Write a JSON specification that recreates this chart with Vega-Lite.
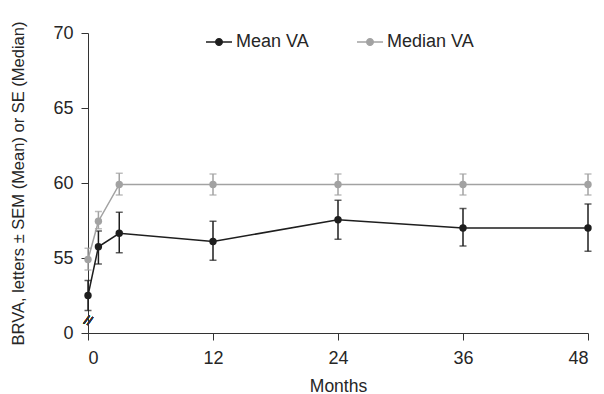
{
  "$schema": "https://vega.github.io/schema/vega-lite/v6.json",
  "width": 500,
  "height": 300,
  "autosize": {"type": "none"},
  "padding": {"left": 88, "top": 33, "right": 16, "bottom": 61},
  "config": {
    "font": "Liberation Sans",
    "view": {"stroke": null},
    "axis": {"labelColor": "#262626", "titleColor": "#262626", "domainColor": "#333333", "tickColor": "#333333", "labelFontSize": 18, "titleFontSize": 17.5, "titleFontWeight": "normal", "grid": false, "tickSize": 7}
  },
  "data": {"values": [
    {"month": 0, "series": "Median VA", "va": 54.9, "lo": 54.2, "hi": 55.65},
    {"month": 1, "series": "Median VA", "va": 57.45, "lo": 56.95, "hi": 58.1},
    {"month": 3, "series": "Median VA", "va": 59.9, "lo": 59.2, "hi": 60.65},
    {"month": 12, "series": "Median VA", "va": 59.9, "lo": 59.2, "hi": 60.6},
    {"month": 24, "series": "Median VA", "va": 59.9, "lo": 59.2, "hi": 60.6},
    {"month": 36, "series": "Median VA", "va": 59.9, "lo": 59.2, "hi": 60.6},
    {"month": 48, "series": "Median VA", "va": 59.9, "lo": 59.2, "hi": 60.6},
    {"month": 0, "series": "Mean VA", "va": 52.5, "lo": 51.5, "hi": 53.5},
    {"month": 1, "series": "Mean VA", "va": 55.75, "lo": 54.6, "hi": 56.8},
    {"month": 3, "series": "Mean VA", "va": 56.65, "lo": 55.35, "hi": 58.05},
    {"month": 12, "series": "Mean VA", "va": 56.1, "lo": 54.85, "hi": 57.45},
    {"month": 24, "series": "Mean VA", "va": 57.55, "lo": 56.25, "hi": 58.85},
    {"month": 36, "series": "Mean VA", "va": 57.0, "lo": 55.8, "hi": 58.3},
    {"month": 48, "series": "Mean VA", "va": 57.0, "lo": 55.45, "hi": 58.6}
  ]},
  "encoding": {
    "x": {"field": "month", "type": "quantitative", "scale": {"domain": [0, 48], "nice": false}, "axis": {"values": [0, 12, 24, 36, 48], "title": "Months", "labelPadding": 9, "titlePadding": 10}},
    "color": {"field": "series", "type": "nominal", "sort": ["Mean VA", "Median VA"], "scale": {"domain": ["Mean VA", "Median VA"], "range": ["#1e1e1e", "#a2a2a2"]},
      "legend": {"title": null, "orient": "none", "legendX": 117, "legendY": -5, "direction": "horizontal", "labelFontSize": 18, "labelColor": "#262626", "columnPadding": 45, "labelOffset": 3,
        "symbolType": "M-1,0H1M0.25,0A0.25,0.25,0,1,1,-0.25,0A0.25,0.25,0,1,1,0.25,0Z", "symbolSize": 676, "symbolStrokeWidth": 1.5,
        "encode": {"symbols": {"update": {"fill": {"scale": "color", "field": "value"}, "stroke": {"scale": "color", "field": "value"}}}}}}
  },
  "layer": [
    {"mark": {"type": "errorbar", "ticks": {"size": 7}, "thickness": 1.5},
     "encoding": {"y": {"field": "lo", "type": "quantitative", "scale": {"domain": [50, 70], "nice": false}, "axis": {"values": [50, 55, 60, 65, 70], "labelExpr": "datum.value == 50 ? '0' : datum.label", "title": "BRVA, letters ± SEM (Mean) or SE (Median)", "titleFontSize": 16.5, "titlePadding": 26, "labelPadding": 8}}, "y2": {"field": "hi"}}},
    {"mark": {"type": "line", "strokeWidth": 1.5}, "encoding": {"y": {"field": "va", "type": "quantitative"}}},
    {"mark": {"type": "point", "filled": true, "size": 55, "opacity": 1}, "encoding": {"y": {"field": "va", "type": "quantitative"}}},
    {"mark": {"type": "text", "text": "//", "fontSize": 13, "color": "#333333", "angle": 20}, "encoding": {"x": {"datum": 0}, "y": {"datum": 50.8}, "color": {"value": "#333333"}}}
  ]
}
